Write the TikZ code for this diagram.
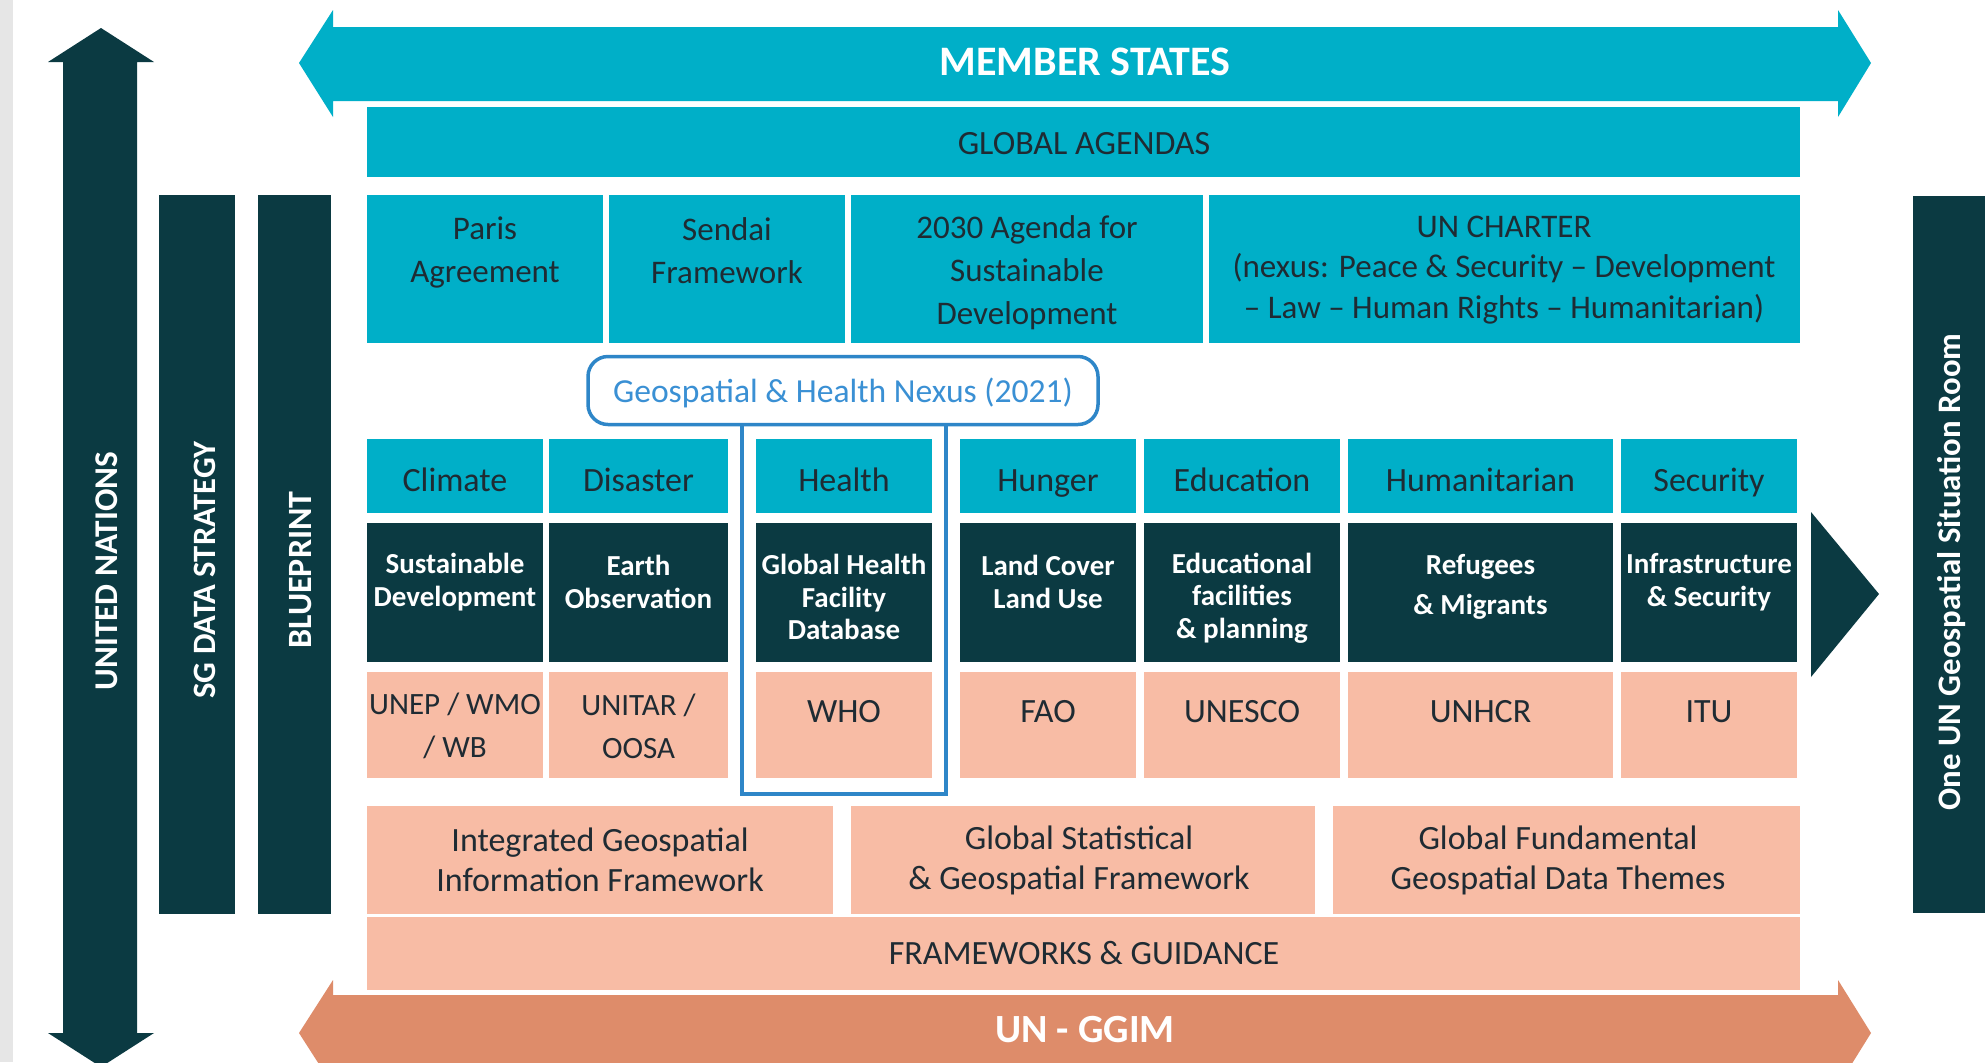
\documentclass[tikz,border=0pt]{standalone}
\usepackage{fontspec}
\setmainfont{Carlito}
\definecolor{teal1}{HTML}{00AFC8}
\definecolor{dark1}{HTML}{0B3A42}
\definecolor{pink1}{HTML}{F8BCA5}
\definecolor{orange1}{HTML}{DE8C6A}
\definecolor{nexusc}{HTML}{2E86C8}
\definecolor{nexust}{HTML}{3A90D4}
\definecolor{txt}{HTML}{1F2B33}
\definecolor{grey1}{HTML}{E6E6E6}
\newcommand\mybox[7]{\node[#1, minimum width={(#5-#3)*0.5pt}, minimum height={(#6-#4)*0.5pt}] (#2) at ({(#3+#5)/2},{(#4+#6)/2}) {#7};}
\tikzset{
  cell/.style={inner sep=0pt, outer sep=0pt},
  tealbox/.style={cell, fill=teal1},
  darkbox/.style={cell, fill=dark1},
  pinkbox/.style={cell, fill=pink1},
  lbl/.style={inner sep=0pt, align=center, text=txt},
  one/.style={text height=0.65em, text depth=0.2em},
  rowtwo/.style={lbl, font=\fontsize{16.5}{21.5}\selectfont},
  cat/.style={lbl, one, font=\fontsize{17}{21}\selectfont},
  darkt/.style={lbl, text=white, font=\bfseries\fontsize{14.5}{16.3}\selectfont},
  pinkt/.style={lbl, font=\fontsize{15.5}{21.5}\selectfont},
  fwt/.style={lbl, font=\fontsize{17}{20}\selectfont},
  vtext/.style={inner sep=0pt, one, rotate=90, text=white, font=\bfseries\fontsize{16.6}{19}\selectfont},
  bigt/.style={inner sep=0pt, one, text=white, font=\bfseries\fontsize{21}{24}\selectfont},
}
\begin{document}
\begin{tikzpicture}[x=0.5pt,y=-0.5pt]
\useasboundingbox (0,0) rectangle (1985,1062);
\clip (0,0) rectangle (1985,1062);
\fill[white] (0,0) rectangle (1985,1062);
\fill[grey1] (0,0) rectangle (13,1062);

% United Nations double arrow
\fill[dark1] (101,28) -- (154,62) -- (137,62) -- (137,1033) -- (154,1033) -- (101,1067)
  -- (48,1033) -- (63,1033) -- (63,62) -- (48,62) -- cycle;
\node[vtext] (un) at (113,571) {UNITED NATIONS};

% SG data strategy and blueprint bars
\mybox{darkbox}{sg}{159}{195}{235}{914}{}
\node[vtext, font=\bfseries\fontsize{16.3}{19}\selectfont] (sgT) at (211,570) {SG DATA STRATEGY};
\mybox{darkbox}{bp}{258}{195}{331}{914}{}
\node[vtext, font=\bfseries\fontsize{17}{19}\selectfont] (bpT) at (307,570) {BLUEPRINT};

% Member states arrow
\fill[teal1] (299,63) -- (333,10) -- (333,27) -- (1838,27) -- (1838,10) -- (1871,63)
  -- (1838,117) -- (1838,101) -- (333,101) -- (333,117) -- cycle;
\node[bigt] (ms) at (1085,71) {MEMBER STATES};

% UN-GGIM arrow
\fill[orange1] (299,1033) -- (333,980) -- (333,995) -- (1838,995) -- (1838,980) -- (1871,1033)
  -- (1838,1086) -- (1838,1071) -- (333,1071) -- (333,1086) -- cycle;
\node[bigt, font=\bfseries\fontsize{20}{24}\selectfont] (ggim) at (1085,1038) {UN - GGIM};

% Global agendas
\mybox{tealbox}{ga}{367}{107}{1800}{177}{}
\node[cat] (gaT) at (1084,150) {GLOBAL AGENDAS};

% Row 2
\mybox{tealbox}{paris}{367}{195}{603}{343}{}
\mybox{tealbox}{sendai}{609}{195}{845}{343}{}
\mybox{tealbox}{agenda}{851}{195}{1203}{343}{}
\mybox{tealbox}{charter}{1209}{195}{1800}{343}{}
\node[rowtwo] (parisT) at (485,252) {Paris\\Agreement};
\node[rowtwo] (sendaiT) at (727,251) {Sendai\\Framework};
\node[rowtwo] (agendaT) at (1027,273) {2030 Agenda for\\Sustainable\\Development};
\node[rowtwo, font=\fontsize{16.5}{20.2}\selectfont] (charterT) at (1504,270) {UN CHARTER\\(nexus: Peace \& Security -- Development\\-- Law -- Human Rights -- Humanitarian)};

% Nexus
\node[draw=nexusc, line width=1.75pt, rounded corners=10pt, inner sep=0pt,
      minimum width=255pt, minimum height=34pt] (nexus) at (843,390.5) {};
\node[cat, text=nexust, font=\fontsize{16.8}{21}\selectfont] (nexusT) at (843,398) {Geospatial \& Health Nexus (2021)};
\coordinate (b1) at (742,794);
\coordinate (b2) at (946,794);
\draw[nexusc, line width=1.75pt] (b1 |- nexus.south) -- (b1) -- (b2) -- (b2 |- nexus.south);

% Category row
\mybox{tealbox}{climate}{367}{439}{543}{513}{}
\mybox{tealbox}{disaster}{549}{439}{728}{513}{}
\mybox{tealbox}{health}{756}{439}{932}{513}{}
\mybox{tealbox}{hunger}{960}{439}{1136}{513}{}
\mybox{tealbox}{education}{1144}{439}{1340}{513}{}
\mybox{tealbox}{humanit}{1348}{439}{1613}{513}{}
\mybox{tealbox}{security}{1621}{439}{1797}{513}{}
\node[cat] (climateT) at (455,487) {Climate};
\node[cat] (disasterT) at (638.5,487) {Disaster};
\node[cat] (healthT) at (844,487) {Health};
\node[cat] (hungerT) at (1048,487) {Hunger};
\node[cat] (educationT) at (1242,487) {Education};
\node[cat] (humanitT) at (1480.5,487) {Humanitarian};
\node[cat] (securityT) at (1709,487) {Security};

% Dark row
\mybox{darkbox}{d1}{367}{523}{543}{662}{}
\mybox{darkbox}{d2}{549}{523}{728}{662}{}
\mybox{darkbox}{d3}{756}{523}{932}{662}{}
\mybox{darkbox}{d4}{960}{523}{1136}{662}{}
\mybox{darkbox}{d5}{1144}{523}{1340}{662}{}
\mybox{darkbox}{d6}{1348}{523}{1613}{662}{}
\mybox{darkbox}{d7}{1621}{523}{1797}{662}{}
\node[darkt] (d1T) at (455,582) {Sustainable\\Development};
\node[darkt] (d2T) at (638.5,582) {Earth\\Observation};
\node[darkt] (d3T) at (844,597) {Global Health\\Facility\\Database};
\node[darkt] (d4T) at (1048,582) {Land Cover\\Land Use};
\node[darkt] (d5T) at (1242,598) {Educational\\facilities\\\& planning};
\node[darkt, font=\bfseries\fontsize{14.5}{20}\selectfont] (d6T) at (1480.5,587) {Refugees\\\& Migrants};
\node[darkt] (d7T) at (1709,582) {Infrastructure\\\& Security};

% Pink row
\mybox{pinkbox}{p1}{367}{672}{543}{778}{}
\mybox{pinkbox}{p2}{549}{672}{728}{778}{}
\mybox{pinkbox}{p3}{756}{672}{932}{778}{}
\mybox{pinkbox}{p4}{960}{672}{1136}{778}{}
\mybox{pinkbox}{p5}{1144}{672}{1340}{778}{}
\mybox{pinkbox}{p6}{1348}{672}{1613}{778}{}
\mybox{pinkbox}{p7}{1621}{672}{1797}{778}{}
\node[pinkt] (p1T) at (455,726) {UNEP / WMO\\/ WB};
\node[pinkt] (p2T) at (638.5,726) {UNITAR /\\OOSA};
\node[cat] (p3T) at (844,718) {WHO};
\node[cat] (p4T) at (1048,718) {FAO};
\node[cat] (p5T) at (1242,718) {UNESCO};
\node[cat] (p6T) at (1480.5,718) {UNHCR};
\node[cat] (p7T) at (1709,718) {ITU};

% Frameworks
\mybox{pinkbox}{igif}{367}{806}{833}{914}{}
\mybox{pinkbox}{gsgf}{851}{806}{1315}{914}{}
\mybox{pinkbox}{gfgdt}{1333}{806}{1800}{914}{}
\node[fwt] (igifT) at (600,860) {Integrated Geospatial\\Information Framework};
\node[fwt] (gsgfT) at (1079,860) {Global Statistical\\\& Geospatial Framework};
\node[fwt] (gfgdtT) at (1558,860) {Global Fundamental\\Geospatial Data Themes};
\mybox{pinkbox}{fg}{367}{917}{1800}{990}{}
\node[cat] (fgT) at (1084,960) {FRAMEWORKS \& GUIDANCE};

% Right side: triangle and situation room bar
\fill[dark1] (1811,512) -- (1879,594) -- (1811,677) -- cycle;
\mybox{darkbox}{room}{1913}{196}{1990}{913}{}
\node[vtext, font=\bfseries\fontsize{16.4}{19}\selectfont] (roomT) at (1956,572) {One UN Geospatial Situation Room};
\end{tikzpicture}
\end{document}
